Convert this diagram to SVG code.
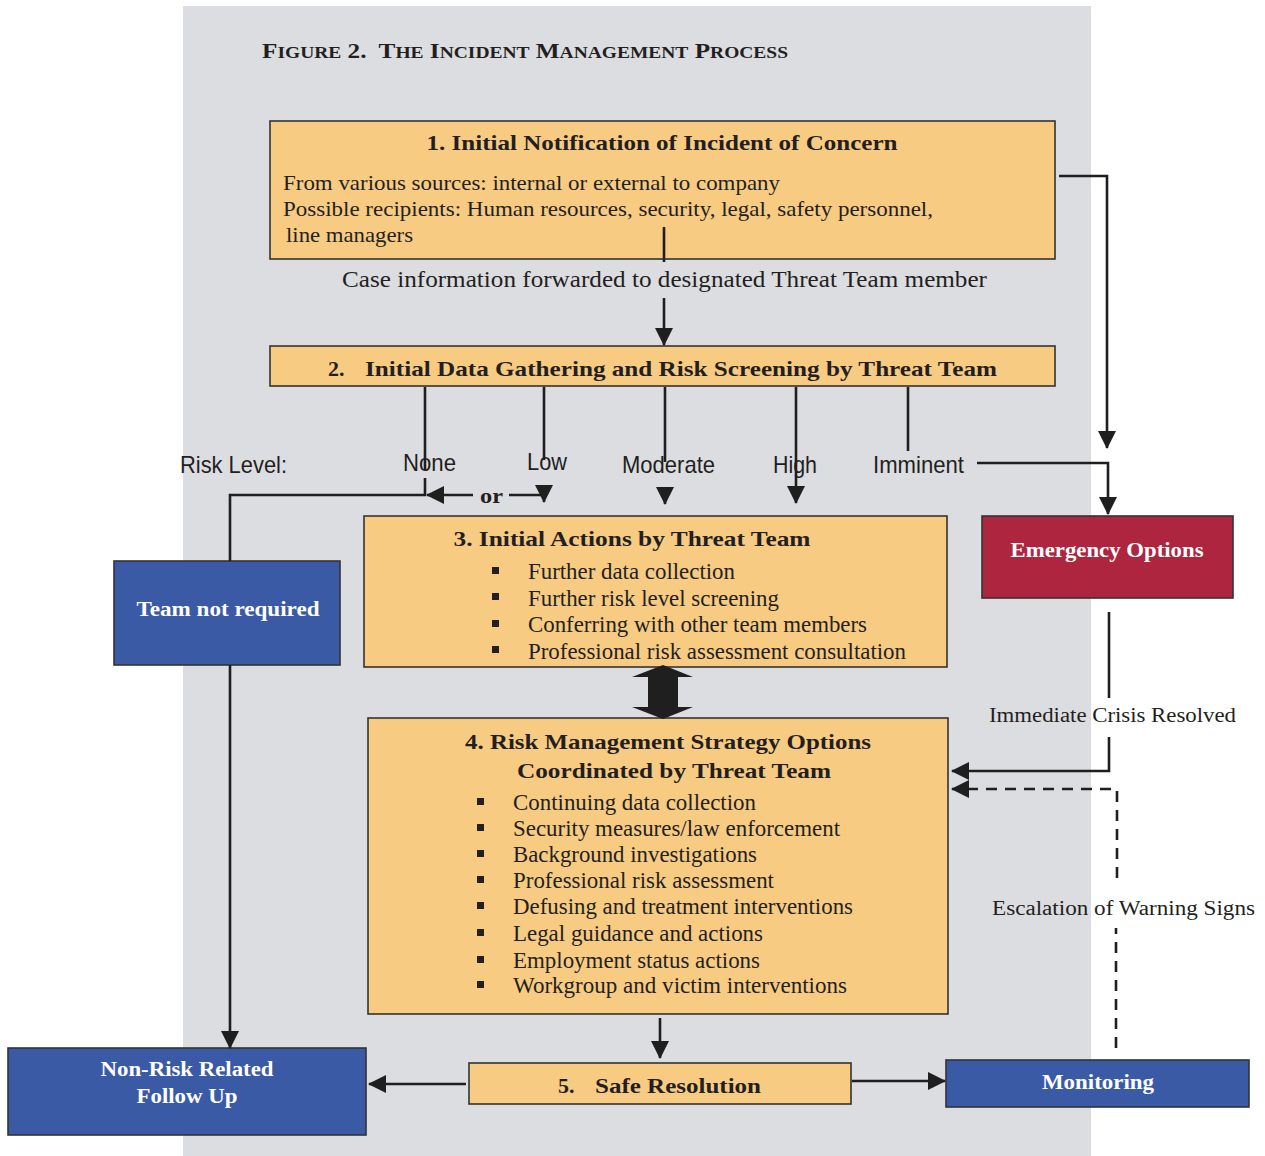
<svg xmlns="http://www.w3.org/2000/svg" width="1265" height="1156" viewBox="0 0 1265 1156">
<defs>
<style>
.box{fill:#f8cb83;stroke:#333;stroke-width:1.6}
.blue{fill:#3a5aa6;stroke:#333;stroke-width:1.6}
.red{fill:#ae2540;stroke:#333;stroke-width:1.6}
.ln{fill:none;stroke:#1f1f1f;stroke-width:2.6}
.dash{fill:none;stroke:#1f1f1f;stroke-width:2.6;stroke-dasharray:11,8}
.t{font-family:"Liberation Serif","Times New Roman",serif;fill:#231f20}
.b{font-weight:bold}
.it{font-size:22.5px}
.w{fill:#fff;font-weight:bold;font-family:"Liberation Serif","Times New Roman",serif}
.s{font-family:"Liberation Sans Narrow","Liberation Sans",Arial,sans-serif;fill:#231f20;font-size:24px}
.bul{fill:#231f20}
</style>
<marker id="ah" viewBox="0 0 18 18" refX="17" refY="9" markerWidth="18" markerHeight="18" markerUnits="userSpaceOnUse" orient="auto">
<path d="M0,0 L18,9 L0,18 z" fill="#1f1f1f"/>
</marker>
</defs>
<rect x="183" y="6" width="908" height="1150" fill="#dcdde0"/>
<text class="t b" x="262" y="58" textLength="526" lengthAdjust="spacingAndGlyphs" xml:space="preserve"><tspan font-size="22">F</tspan><tspan font-size="17">IGURE</tspan><tspan font-size="22"> 2.  T</tspan><tspan font-size="17">HE</tspan><tspan font-size="22"> I</tspan><tspan font-size="17">NCIDENT</tspan><tspan font-size="22"> M</tspan><tspan font-size="17">ANAGEMENT</tspan><tspan font-size="22"> P</tspan><tspan font-size="17">ROCESS</tspan></text>

<g id="node1">
<rect class="box" x="270" y="121" width="785" height="138"/>
<text class="t b" x="662" y="150" font-size="22" text-anchor="middle" textLength="471" lengthAdjust="spacingAndGlyphs">1. Initial Notification of Incident of Concern</text>
<text class="t" x="283" y="190" font-size="21.5" textLength="497" lengthAdjust="spacingAndGlyphs">From various sources: internal or external to company</text>
<text class="t" x="283" y="216" font-size="21.5" textLength="650" lengthAdjust="spacingAndGlyphs">Possible recipients: Human resources, security, legal, safety personnel,</text>
<text class="t" x="286" y="242" font-size="21.5" textLength="127" lengthAdjust="spacingAndGlyphs">line managers</text>
</g>
<text class="t" x="664.5" y="287" font-size="23" text-anchor="middle" textLength="645" lengthAdjust="spacingAndGlyphs">Case information forwarded to designated Threat Team member</text>

<g id="node2">
<rect class="box" x="270" y="346" width="785" height="40"/>
<text class="t b" x="328" y="376" font-size="22">2.</text>
<text class="t b" x="365" y="376" font-size="22" textLength="632" lengthAdjust="spacingAndGlyphs">Initial Data Gathering and Risk Screening by Threat Team</text>
</g>

<g id="node3">
<rect class="box" x="364" y="516" width="583" height="151"/>
<text class="t b" x="632" y="546" font-size="22" text-anchor="middle" textLength="357" lengthAdjust="spacingAndGlyphs">3. Initial Actions by Threat Team</text>
<g class="bul">
<rect x="492" y="567" width="7" height="7"/>
<rect x="492" y="593" width="7" height="7"/>
<rect x="492" y="620" width="7" height="7"/>
<rect x="492" y="646" width="7" height="7"/>
</g>
<text class="t it" x="528" y="579" textLength="207" lengthAdjust="spacingAndGlyphs">Further data collection</text>
<text class="t it" x="528" y="606" textLength="251" lengthAdjust="spacingAndGlyphs">Further risk level screening</text>
<text class="t it" x="528" y="632" textLength="339" lengthAdjust="spacingAndGlyphs">Conferring with other team members</text>
<text class="t it" x="528" y="659" textLength="378" lengthAdjust="spacingAndGlyphs">Professional risk assessment consultation</text>
</g>

<g id="node4">
<rect class="box" x="368" y="718" width="580" height="296"/>
<text class="t b" x="668" y="749" font-size="22" text-anchor="middle" textLength="406" lengthAdjust="spacingAndGlyphs">4. Risk Management Strategy Options</text>
<text class="t b" x="674" y="778" font-size="22" text-anchor="middle" textLength="314" lengthAdjust="spacingAndGlyphs">Coordinated by Threat Team</text>
<g class="bul">
<rect x="477" y="798" width="7" height="7"/>
<rect x="477" y="824" width="7" height="7"/>
<rect x="477" y="850" width="7" height="7"/>
<rect x="477" y="876" width="7" height="7"/>
<rect x="477" y="902" width="7" height="7"/>
<rect x="477" y="929" width="7" height="7"/>
<rect x="477" y="956" width="7" height="7"/>
<rect x="477" y="981" width="7" height="7"/>
</g>
<text class="t it" x="513" y="810" textLength="243" lengthAdjust="spacingAndGlyphs">Continuing data collection</text>
<text class="t it" x="513" y="836" textLength="327" lengthAdjust="spacingAndGlyphs">Security measures/law enforcement</text>
<text class="t it" x="513" y="862" textLength="244" lengthAdjust="spacingAndGlyphs">Background investigations</text>
<text class="t it" x="513" y="888" textLength="261" lengthAdjust="spacingAndGlyphs">Professional risk assessment</text>
<text class="t it" x="513" y="914" textLength="340" lengthAdjust="spacingAndGlyphs">Defusing and treatment interventions</text>
<text class="t it" x="513" y="941" textLength="250" lengthAdjust="spacingAndGlyphs">Legal guidance and actions</text>
<text class="t it" x="513" y="968" textLength="247" lengthAdjust="spacingAndGlyphs">Employment status actions</text>
<text class="t it" x="513" y="993" textLength="334" lengthAdjust="spacingAndGlyphs">Workgroup and victim interventions</text>
</g>

<g id="node5">
<rect class="box" x="469" y="1063" width="382" height="41"/>
<text class="t b" x="558" y="1093" font-size="22">5.</text>
<text class="t b" x="595" y="1093" font-size="22" textLength="166" lengthAdjust="spacingAndGlyphs">Safe Resolution</text>
</g>

<g id="emergency">
<rect class="red" x="982" y="516" width="251" height="82"/>
<text class="w" x="1107" y="557" font-size="20" text-anchor="middle" textLength="193" lengthAdjust="spacingAndGlyphs">Emergency Options</text>
</g>

<g id="teamnot">
<rect class="blue" x="114" y="561" width="226" height="104"/>
<text class="w" x="228" y="616" font-size="20" text-anchor="middle" textLength="183" lengthAdjust="spacingAndGlyphs">Team not required</text>
</g>

<g id="nonrisk">
<rect class="blue" x="8" y="1048" width="358" height="87"/>
<text class="w" x="187" y="1076" font-size="20" text-anchor="middle" textLength="173" lengthAdjust="spacingAndGlyphs">Non-Risk Related</text>
<text class="w" x="187" y="1103" font-size="20" text-anchor="middle" textLength="101" lengthAdjust="spacingAndGlyphs">Follow Up</text>
</g>

<g id="monitoring">
<rect class="blue" x="946" y="1060" width="303" height="47"/>
<text class="w" x="1098" y="1089" font-size="20" text-anchor="middle" textLength="112" lengthAdjust="spacingAndGlyphs">Monitoring</text>
</g>

<g id="labels">
<text class="s" x="180" y="473" textLength="107" lengthAdjust="spacingAndGlyphs">Risk Level:</text>
<text class="s" x="403" y="471" textLength="53" lengthAdjust="spacingAndGlyphs">None</text>
<text class="s" x="527" y="470" textLength="40" lengthAdjust="spacingAndGlyphs">Low</text>
<text class="s" x="622" y="473" textLength="93" lengthAdjust="spacingAndGlyphs">Moderate</text>
<text class="s" x="773" y="473" textLength="44" lengthAdjust="spacingAndGlyphs">High</text>
<text class="s" x="873" y="473" textLength="91" lengthAdjust="spacingAndGlyphs">Imminent</text>
<text class="t b" x="480" y="503" font-size="21" textLength="23" lengthAdjust="spacingAndGlyphs">or</text>
<text class="t" x="989" y="722" font-size="20" textLength="247" lengthAdjust="spacingAndGlyphs">Immediate Crisis Resolved</text>
<text class="t" x="992" y="915" font-size="20" textLength="263" lengthAdjust="spacingAndGlyphs">Escalation of Warning Signs</text>
</g>

<g id="connectors">
<path class="ln" d="M664,227 V262"/>
<path class="ln" d="M664,298 V345" marker-end="url(#ah)"/>
<path class="ln" d="M1059,176 H1107 V448" stroke-width="1.8" marker-end="url(#ah)"/>
<path class="ln" d="M425,387 V470"/>
<path class="ln" d="M425,478 V495 H230 V561"/>
<path class="ln" d="M473,495 H427" marker-end="url(#ah)"/>
<path class="ln" d="M509,495 H543"/>
<path class="ln" d="M544,387 V460"/>
<path class="ln" d="M544,485 V502" marker-end="url(#ah)"/>
<path class="ln" d="M665,387 V462"/>
<path class="ln" d="M665,487 V504" marker-end="url(#ah)"/>
<path class="ln" d="M796,387 V503" marker-end="url(#ah)"/>
<path class="ln" d="M908,387 V451"/>
<path class="ln" d="M977,463 H1108 V514" marker-end="url(#ah)"/>
<path class="ln" d="M1109,612 V698"/>
<path class="ln" d="M1109,737 V771 H952" marker-end="url(#ah)"/>
<path class="dash" d="M1116,1048 V928"/>
<path class="dash" d="M1117,878 V789 H952" marker-end="url(#ah)"/>
<polygon points="663,665 693,677 678,677 678,707 693,707 663,719 632,707 648,707 648,677 632,677" fill="#1f1f1f"/>
<path class="ln" d="M660,1018 V1058" marker-end="url(#ah)"/>
<path class="ln" d="M466,1084 H369" marker-end="url(#ah)"/>
<path class="ln" d="M852,1081 H945" marker-end="url(#ah)"/>
<path class="ln" d="M230,665 V1048" marker-end="url(#ah)"/>
</g>
</svg>
